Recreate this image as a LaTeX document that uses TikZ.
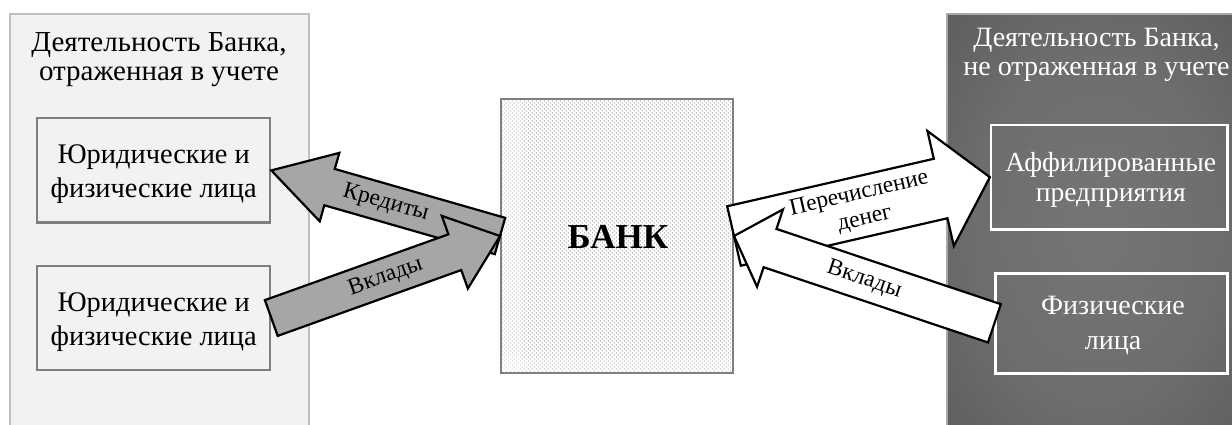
\documentclass[tikz,border=0pt]{standalone}
\usepackage{fontspec}
\setmainfont{Liberation Serif}
\usetikzlibrary{calc,patterns.meta}

\definecolor{ledgerfill}{HTML}{F2F2F2}
\definecolor{ledgerrule}{HTML}{BFBFBF}
\definecolor{boxrule}{HTML}{7F7F7F}
\definecolor{arrowgray}{HTML}{A6A6A6}
\definecolor{shadowrule}{HTML}{A8A8A8}
\definecolor{dotgray}{HTML}{9A9A9A}

% soft glow for the dark (off-books) panel
\pgfdeclareradialshading{panelglow}{\pgfpoint{0bp}{0bp}}{%
  rgb(0bp)=(0.46,0.46,0.46); rgb(20bp)=(0.43,0.43,0.43);
  rgb(45bp)=(0.33,0.33,0.33); rgb(72bp)=(0.29,0.29,0.29)}

% block arrow: #1 style, #2 tail, #3 tip, #4 shaft half-width,
% #5 head half-width, #6 head length
\newcommand\flowarrow[6]{%
  \coordinate (fa-base) at ($(#3)!#6!(#2)$);
  \draw[#1] ($(#2)!#4!90:(#3)$) -- ($(fa-base)!#4!90:(#3)$)
     -- ($(fa-base)!#5!90:(#3)$) -- (#3)
     -- ($(fa-base)!#5!-90:(#3)$) -- ($(fa-base)!#4!-90:(#3)$)
     -- ($(#2)!#4!-90:(#3)$) -- cycle;
}

\tikzset{
  ledger/.style={draw=ledgerrule, line width=2pt, fill=ledgerfill,
    rectangle, anchor=north west, inner sep=0pt},
  offbooks/.style={draw=shadowrule, line width=2pt, shading=panelglow,
    rectangle, anchor=north west, inner sep=0pt},
  lbox/.style={draw=boxrule, line width=2.6pt, rectangle, inner sep=0pt},
  dbox/.style={draw=white, line width=2.6pt, rectangle, inner sep=0pt},
  bankbox/.style={draw=boxrule, line width=2pt, rectangle, inner sep=0pt,
    preaction={fill=white},
    pattern={Dots[distance=2.83pt, angle=45, radius=0.65pt]},
    pattern color=dotgray},
  heading/.style={align=center, anchor=base,
    font=\fontsize{29}{29.5}\selectfont},
  boxtext/.style={align=center, anchor=base,
    font=\fontsize{28.4}{34}\selectfont},
  grayflow/.style={draw=black, line width=2.2pt, fill=arrowgray},
  whiteflow/.style={draw=black, line width=2.2pt, fill=white},
  tag/.style={midway, sloped, align=center, inner sep=0pt,
    font=\fontsize{23.5}{26}\selectfont},
}

\begin{document}
\begin{tikzpicture}[x=1pt,y=-1pt]
\useasboundingbox (0,0) rectangle (1232,425);

% the two activity panels
\node[ledger, minimum width=299pt, minimum height=430pt] (books) at (9,13) {};
\node[offbooks, minimum width=300pt, minimum height=430pt] (shadow) at (946,13) {};

% multi-line texts are placed by the baseline of their last line
\node[heading] (books-title) at (159,81)
  {Деятельность Банка,\\отраженная в учете};
\node[heading, text=white, font=\fontsize{28}{28.5}\selectfont] (shadow-title)
  at (1096.5,75.5) {Деятельность Банка,\\не отраженная в учете};

% counterparties on the books
\node[lbox, minimum width=233pt, minimum height=104.5pt] (legal1) at (153.5,170.4) {};
\node[lbox, minimum width=233pt, minimum height=104pt] (legal2) at (153.5,318) {};
\node[boxtext] (legal1-text) at (153.7,197.3) {Юридические и\\физические лица};
\node[boxtext] (legal2-text) at (153.7,345) {Юридические и\\физические лица};

% counterparties off the books
\node[dbox, minimum width=236.5pt, minimum height=104.3pt] (affil) at (1109.4,177.2) {};
\node[dbox, minimum width=232pt, minimum height=100pt] (persons) at (1111.7,323.3) {};
\node[boxtext, text=white, font=\fontsize{27.6}{30.5}\selectfont] (affil-text)
  at (1110.8,201.7) {Аффилированные\\предприятия};
\node[boxtext, text=white, font=\fontsize{28}{35}\selectfont] (persons-text)
  at (1113,349.3) {Физические\\лица};

% the bank
\node[bankbox, minimum width=232pt, minimum height=274pt] (bank) at (617,236) {};
\node[anchor=base, font=\fontsize{35}{40}\selectfont\bfseries] (bank-text)
  at (618,248.3) {БАНК};

% money flows
\flowarrow{grayflow}{bank.west}{legal1.east}{18.9pt}{35.6pt}{60.6pt}
\flowarrow{grayflow}{legal2.east}{bank.west}{19pt}{38.6pt}{48pt}
\flowarrow{whiteflow}{bank.east}{affil.west}{30.5pt}{59pt}{50.5pt}
\flowarrow{whiteflow}{persons.west}{bank.east}{20.2pt}{40.8pt}{38pt}

\path (bank.west) -- (legal1.east) node[tag] (credit-tag) {Кредиты};
\path (legal2.east) -- (bank.west) node[tag] (deposit-tag) {Вклады};
\path (bank.east) -- (affil.west) node[tag] (transfer-tag) {Перечисление\\денег};
\path (persons.west) -- (bank.east) node[tag] (inflow-tag) {Вклады};
\end{tikzpicture}
\end{document}
